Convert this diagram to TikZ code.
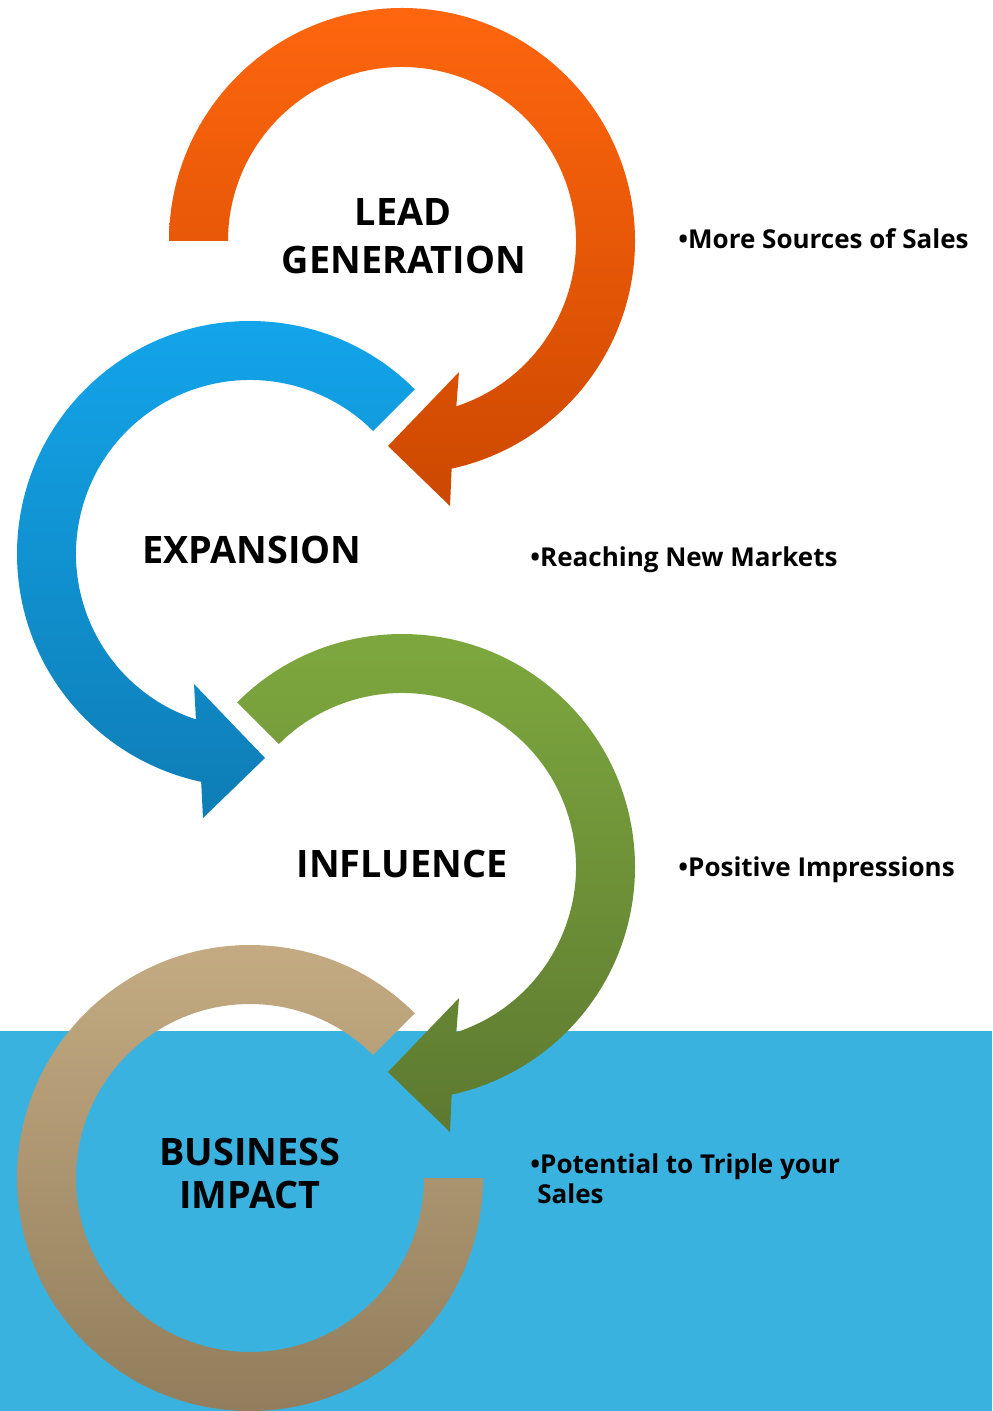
\documentclass[tikz,border=0pt]{standalone}
\usepackage{fontspec}
\setmainfont{Open Sans}
\usetikzlibrary{calc}
\definecolor{bgblue}{HTML}{39B2DF}
\definecolor{orTop}{HTML}{FF660E}
\definecolor{orBot}{HTML}{CC4800}
\definecolor{blTop}{HTML}{13A6EC}
\definecolor{blBot}{HTML}{0E7DB5}
\definecolor{grTop}{HTML}{7FAA3F}
\definecolor{grBot}{HTML}{5D7930}
\definecolor{tnTop}{HTML}{C6AD84}
\definecolor{tnBot}{HTML}{8F7B5A}
\begin{document}
\begin{tikzpicture}[x=0.5pt,y=-0.5pt,
  biglbl/.style={font=\fontsize{18.9}{20}\selectfont\bfseries, inner sep=0pt, anchor=base},
  sidelbl/.style={font=\fontsize{13}{15}\selectfont\bfseries, inner sep=0pt, anchor=base west, align=left}]
\useasboundingbox (0,0) rectangle (992,1411);
\fill[white] (0,0) rectangle (992,1411);
\fill[bgblue] (0,1031) rectangle (992,1411);
\coordinate (O) at (402,241);
\coordinate (B) at (250,554);
\coordinate (G) at (402,867);
\coordinate (T) at (250,1178);
% orange arrow
\shade[top color=orTop, bottom color=orBot]
  ($(O)+(180:233)$) arc[start angle=180, end angle=437.7, radius=233]
  -- ($(O)+(48,265)$) -- ($(O)+(-14,205)$) -- ($(O)+(57,131)$)
  -- ($(O)+(431.8:174)$) arc[start angle=431.8, end angle=180, radius=174] -- cycle;
% blue arrow
\shade[top color=blTop, bottom color=blBot]
  ($(B)+(-45:233)$) arc[start angle=-45, end angle=-257.9, radius=233]
  -- ($(B)+(-47,264)$) -- ($(B)+(15,204)$) -- ($(B)+(-56,130)$)
  -- ($(B)+(-251.9:174)$) arc[start angle=-251.9, end angle=-45, radius=174] -- cycle;
% green arrow
\shade[top color=grTop, bottom color=grBot]
  ($(G)+(-135:233)$) arc[start angle=-135, end angle=77.7, radius=233]
  -- ($(G)+(48,265)$) -- ($(G)+(-14,205)$) -- ($(G)+(57,131)$)
  -- ($(G)+(71.8:174)$) arc[start angle=71.8, end angle=-135, radius=174] -- cycle;
% tan arc
\shade[top color=tnTop, bottom color=tnBot]
  ($(T)+(-45:233)$) arc[start angle=-45, end angle=-360, radius=233]
  -- ($(T)+(-360:174)$) arc[start angle=-360, end angle=-45, radius=174] -- cycle;
% labels
\node[biglbl] (lead) at (403,226) {LEAD};
\node[biglbl] (gen) at (404,274) {GENERATION};
\node[biglbl] (exp) at (252,563) {EXPANSION};
\node[biglbl] (inf) at (402,877) {INFLUENCE};
\node[biglbl] (bus) at (250,1165) {BUSINESS};
\node[biglbl] (imp) at (250,1208) {IMPACT};
\node[sidelbl] (s1) at (678,249) {\textbullet More Sources of Sales};
\node[sidelbl] (s2) at (530,566) {\textbullet Reaching New Markets};
\node[sidelbl] (s3) at (678,876) {\textbullet Positive Impressions};
\node[sidelbl] (s4) at (530,1173) {\textbullet Potential to Triple your};
\node[sidelbl] (s5) at (537,1203) {Sales};
\end{tikzpicture}
\end{document}
